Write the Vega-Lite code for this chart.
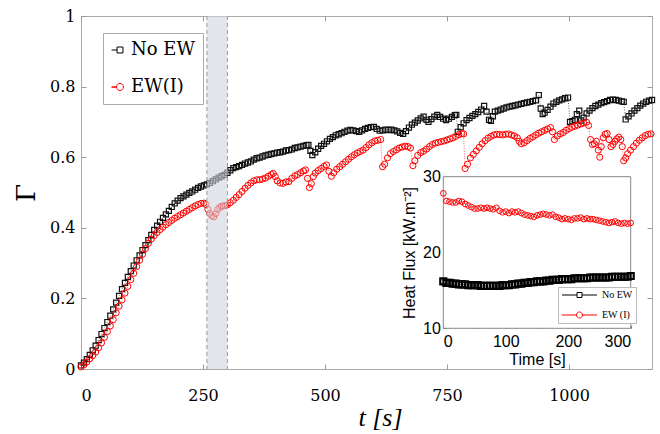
{
  "$schema": "https://vega.github.io/schema/vega-lite/v6.json",
  "width": 571,
  "height": 353,
  "autosize": "none",
  "padding": {"left": 81, "top": 16, "right": 8, "bottom": 65},
  "background": "white",
  "datasets": {
    "noew": [
      {"t":0,"g":0.010},{"t":6,"g":0.018},{"t":12,"g":0.028},{"t":18,"g":0.040},{"t":24,"g":0.053},{"t":30,"g":0.066},
      {"t":36,"g":0.082},{"t":42,"g":0.099},{"t":48,"g":0.116},{"t":54,"g":0.133},{"t":60,"g":0.151},{"t":66,"g":0.169},
      {"t":72,"g":0.188},{"t":78,"g":0.207},{"t":84,"g":0.226},{"t":90,"g":0.244},{"t":96,"g":0.261},{"t":102,"g":0.277},
      {"t":108,"g":0.293},{"t":114,"g":0.308},{"t":120,"g":0.322},{"t":126,"g":0.337},{"t":132,"g":0.351},{"t":138,"g":0.365},
      {"t":144,"g":0.380},{"t":150,"g":0.394},{"t":156,"g":0.406},{"t":162,"g":0.417},{"t":168,"g":0.428},{"t":174,"g":0.438},
      {"t":180,"g":0.448},{"t":186,"g":0.459},{"t":192,"g":0.469},{"t":198,"g":0.477},{"t":204,"g":0.484},{"t":210,"g":0.489},
      {"t":216,"g":0.494},{"t":222,"g":0.499},{"t":228,"g":0.503},{"t":234,"g":0.508},{"t":240,"g":0.513},{"t":246,"g":0.517},
      {"t":252,"g":0.520},{"t":258,"g":0.523},{"t":264,"g":0.527},{"t":270,"g":0.532},{"t":276,"g":0.537},{"t":282,"g":0.542},
      {"t":288,"g":0.546},{"t":294,"g":0.550},{"t":300,"g":0.556},{"t":306,"g":0.563},{"t":312,"g":0.569},{"t":318,"g":0.572},
      {"t":324,"g":0.575},{"t":330,"g":0.578},{"t":336,"g":0.582},{"t":342,"g":0.585},{"t":348,"g":0.588},{"t":354,"g":0.593},
      {"t":360,"g":0.597},{"t":366,"g":0.599},{"t":372,"g":0.602},{"t":378,"g":0.605},{"t":384,"g":0.607},{"t":390,"g":0.609},
      {"t":396,"g":0.611},{"t":402,"g":0.613},{"t":408,"g":0.614},{"t":414,"g":0.616},{"t":420,"g":0.619},{"t":426,"g":0.620},
      {"t":432,"g":0.622},{"t":438,"g":0.626},{"t":444,"g":0.628},{"t":450,"g":0.630},{"t":456,"g":0.632},{"t":462,"g":0.634},
      {"t":466,"g":0.635},{"t":470,"g":0.618},{"t":474,"g":0.606},{"t":480,"g":0.614},{"t":486,"g":0.624},{"t":492,"g":0.632},
      {"t":498,"g":0.638},{"t":504,"g":0.645},{"t":510,"g":0.652},{"t":516,"g":0.657},{"t":522,"g":0.662},{"t":528,"g":0.665},
      {"t":534,"g":0.668},{"t":540,"g":0.672},{"t":546,"g":0.675},{"t":552,"g":0.677},{"t":558,"g":0.676},{"t":564,"g":0.674},
      {"t":570,"g":0.672},{"t":576,"g":0.676},{"t":582,"g":0.680},{"t":588,"g":0.683},{"t":594,"g":0.685},{"t":600,"g":0.686},
      {"t":606,"g":0.680},{"t":612,"g":0.675},{"t":618,"g":0.676},{"t":624,"g":0.678},{"t":630,"g":0.677},{"t":636,"g":0.678},
      {"t":642,"g":0.676},{"t":648,"g":0.673},{"t":654,"g":0.669},{"t":660,"g":0.666},{"t":666,"g":0.674},{"t":672,"g":0.684},
      {"t":678,"g":0.692},{"t":684,"g":0.698},{"t":690,"g":0.704},{"t":696,"g":0.710},{"t":702,"g":0.715},{"t":708,"g":0.706},
      {"t":712,"g":0.700},{"t":718,"g":0.708},{"t":724,"g":0.715},{"t":730,"g":0.720},{"t":736,"g":0.714},{"t":742,"g":0.709},
      {"t":748,"g":0.705},{"t":754,"g":0.709},{"t":760,"g":0.714},{"t":766,"g":0.719},{"t":769,"g":0.720},{"t":772,"g":0.672},
      {"t":778,"g":0.685},{"t":784,"g":0.696},{"t":790,"g":0.705},{"t":796,"g":0.711},{"t":802,"g":0.717},{"t":808,"g":0.722},
      {"t":814,"g":0.728},{"t":820,"g":0.735},{"t":826,"g":0.745},{"t":831,"g":0.729},{"t":836,"g":0.706},{"t":840,"g":0.703},
      {"t":844,"g":0.716},{"t":848,"g":0.729},{"t":854,"g":0.732},{"t":860,"g":0.735},{"t":866,"g":0.738},{"t":872,"g":0.741},
      {"t":878,"g":0.743},{"t":884,"g":0.745},{"t":890,"g":0.747},{"t":896,"g":0.749},{"t":902,"g":0.751},{"t":908,"g":0.753},
      {"t":914,"g":0.755},{"t":920,"g":0.757},{"t":926,"g":0.759},{"t":932,"g":0.761},{"t":938,"g":0.776},{"t":942,"g":0.738},
      {"t":946,"g":0.722},{"t":950,"g":0.726},{"t":956,"g":0.734},{"t":962,"g":0.743},{"t":968,"g":0.752},{"t":974,"g":0.757},
      {"t":980,"g":0.761},{"t":986,"g":0.764},{"t":992,"g":0.767},{"t":998,"g":0.769},{"t":1002,"g":0.700},{"t":1007,"g":0.702},
      {"t":1012,"g":0.706},{"t":1016,"g":0.722},{"t":1021,"g":0.732},{"t":1025,"g":0.704},{"t":1030,"g":0.712},{"t":1036,"g":0.724},
      {"t":1042,"g":0.732},{"t":1048,"g":0.739},{"t":1054,"g":0.745},{"t":1060,"g":0.749},{"t":1066,"g":0.753},{"t":1072,"g":0.756},
      {"t":1078,"g":0.759},{"t":1084,"g":0.762},{"t":1090,"g":0.763},{"t":1096,"g":0.762},{"t":1102,"g":0.760},{"t":1108,"g":0.758},
      {"t":1112,"g":0.757},{"t":1116,"g":0.707},{"t":1122,"g":0.716},{"t":1128,"g":0.724},{"t":1134,"g":0.732},{"t":1140,"g":0.739},
      {"t":1146,"g":0.746},{"t":1152,"g":0.752},{"t":1158,"g":0.757},{"t":1164,"g":0.760},{"t":1170,"g":0.762}
    ],
    "ewi": [
      {"t":0,"g":0.006},{"t":6,"g":0.012},{"t":12,"g":0.020},{"t":18,"g":0.029},{"t":24,"g":0.038},{"t":30,"g":0.048},
      {"t":36,"g":0.060},{"t":42,"g":0.074},{"t":48,"g":0.090},{"t":54,"g":0.106},{"t":60,"g":0.122},{"t":66,"g":0.140},
      {"t":72,"g":0.159},{"t":78,"g":0.178},{"t":84,"g":0.196},{"t":90,"g":0.215},{"t":96,"g":0.234},{"t":102,"g":0.253},
      {"t":108,"g":0.271},{"t":114,"g":0.290},{"t":120,"g":0.308},{"t":126,"g":0.325},{"t":132,"g":0.341},{"t":138,"g":0.356},
      {"t":144,"g":0.368},{"t":150,"g":0.378},{"t":156,"g":0.387},{"t":162,"g":0.395},{"t":168,"g":0.402},{"t":174,"g":0.409},
      {"t":180,"g":0.415},{"t":186,"g":0.421},{"t":192,"g":0.427},{"t":198,"g":0.432},{"t":204,"g":0.437},{"t":210,"g":0.442},
      {"t":216,"g":0.447},{"t":222,"g":0.452},{"t":228,"g":0.457},{"t":234,"g":0.462},{"t":240,"g":0.466},{"t":246,"g":0.469},
      {"t":252,"g":0.470},{"t":256,"g":0.466},{"t":260,"g":0.452},{"t":264,"g":0.441},{"t":268,"g":0.434},{"t":272,"g":0.431},
      {"t":276,"g":0.440},{"t":280,"g":0.452},{"t":284,"g":0.458},{"t":288,"g":0.461},{"t":292,"g":0.462},{"t":296,"g":0.463},
      {"t":300,"g":0.465},{"t":306,"g":0.471},{"t":312,"g":0.478},{"t":318,"g":0.486},{"t":324,"g":0.494},{"t":330,"g":0.503},
      {"t":336,"g":0.512},{"t":342,"g":0.520},{"t":348,"g":0.527},{"t":354,"g":0.533},{"t":360,"g":0.536},{"t":366,"g":0.536},
      {"t":372,"g":0.538},{"t":378,"g":0.541},{"t":384,"g":0.546},{"t":390,"g":0.551},{"t":394,"g":0.554},{"t":398,"g":0.545},
      {"t":402,"g":0.533},{"t":408,"g":0.527},{"t":414,"g":0.526},{"t":420,"g":0.530},{"t":426,"g":0.531},{"t":432,"g":0.540},
      {"t":438,"g":0.547},{"t":444,"g":0.551},{"t":450,"g":0.556},{"t":456,"g":0.561},{"t":460,"g":0.564},{"t":464,"g":0.540},
      {"t":468,"g":0.514},{"t":472,"g":0.525},{"t":476,"g":0.545},{"t":480,"g":0.555},{"t":486,"g":0.562},{"t":492,"g":0.568},
      {"t":498,"g":0.574},{"t":503,"g":0.578},{"t":508,"g":0.560},{"t":513,"g":0.546},{"t":518,"g":0.556},{"t":524,"g":0.566},
      {"t":530,"g":0.573},{"t":536,"g":0.580},{"t":542,"g":0.587},{"t":548,"g":0.594},{"t":554,"g":0.601},{"t":560,"g":0.607},
      {"t":566,"g":0.612},{"t":572,"g":0.616},{"t":578,"g":0.620},{"t":584,"g":0.627},{"t":590,"g":0.635},{"t":596,"g":0.641},
      {"t":602,"g":0.646},{"t":608,"g":0.648},{"t":614,"g":0.650},{"t":618,"g":0.573},{"t":622,"g":0.580},{"t":628,"g":0.598},
      {"t":634,"g":0.610},{"t":640,"g":0.616},{"t":646,"g":0.621},{"t":652,"g":0.626},{"t":658,"g":0.629},{"t":664,"g":0.631},
      {"t":670,"g":0.630},{"t":675,"g":0.626},{"t":680,"g":0.576},{"t":684,"g":0.590},{"t":690,"g":0.605},{"t":696,"g":0.613},
      {"t":702,"g":0.617},{"t":708,"g":0.623},{"t":714,"g":0.630},{"t":720,"g":0.636},{"t":726,"g":0.640},{"t":732,"g":0.642},
      {"t":738,"g":0.644},{"t":744,"g":0.646},{"t":750,"g":0.649},{"t":756,"g":0.652},{"t":762,"g":0.655},{"t":768,"g":0.659},
      {"t":774,"g":0.664},{"t":780,"g":0.667},{"t":784,"g":0.666},{"t":787,"g":0.568},{"t":792,"g":0.580},{"t":798,"g":0.598},
      {"t":804,"g":0.608},{"t":810,"g":0.618},{"t":816,"g":0.628},{"t":822,"g":0.638},{"t":828,"g":0.647},{"t":834,"g":0.654},
      {"t":840,"g":0.659},{"t":846,"g":0.663},{"t":852,"g":0.665},{"t":858,"g":0.664},{"t":864,"g":0.663},{"t":870,"g":0.665},
      {"t":876,"g":0.666},{"t":882,"g":0.663},{"t":888,"g":0.660},{"t":894,"g":0.655},{"t":898,"g":0.645},{"t":902,"g":0.638},
      {"t":908,"g":0.641},{"t":914,"g":0.647},{"t":920,"g":0.653},{"t":926,"g":0.658},{"t":932,"g":0.663},{"t":938,"g":0.668},
      {"t":944,"g":0.672},{"t":950,"g":0.676},{"t":956,"g":0.680},{"t":962,"g":0.684},{"t":966,"g":0.672},{"t":970,"g":0.650},
      {"t":976,"g":0.660},{"t":982,"g":0.666},{"t":988,"g":0.670},{"t":994,"g":0.676},{"t":1000,"g":0.681},{"t":1006,"g":0.685},
      {"t":1012,"g":0.688},{"t":1018,"g":0.691},{"t":1024,"g":0.694},{"t":1030,"g":0.697},{"t":1036,"g":0.699},{"t":1040,"g":0.690},
      {"t":1044,"g":0.650},{"t":1048,"g":0.636},{"t":1052,"g":0.638},{"t":1056,"g":0.645},{"t":1060,"g":0.620},{"t":1063,"g":0.600},
      {"t":1066,"g":0.630},{"t":1070,"g":0.655},{"t":1074,"g":0.665},{"t":1078,"g":0.667},{"t":1082,"g":0.650},{"t":1086,"g":0.630},
      {"t":1090,"g":0.636},{"t":1094,"g":0.645},{"t":1098,"g":0.652},{"t":1102,"g":0.657},{"t":1106,"g":0.650},{"t":1109,"g":0.630},
      {"t":1112,"g":0.590},{"t":1116,"g":0.598},{"t":1120,"g":0.610},{"t":1126,"g":0.620},{"t":1132,"g":0.630},{"t":1138,"g":0.640},
      {"t":1144,"g":0.648},{"t":1150,"g":0.655},{"t":1156,"g":0.661},{"t":1162,"g":0.665},{"t":1168,"g":0.666}
    ],
    "hf_noew": [
      {"t":0,"q":16.2},{"t":5,"q":16.0},{"t":10,"q":16.0},{"t":15,"q":15.9},{"t":20,"q":15.9},{"t":25,"q":15.8},{"t":30,"q":15.8},
      {"t":35,"q":15.8},{"t":40,"q":15.7},{"t":45,"q":15.7},{"t":50,"q":15.7},{"t":55,"q":15.7},{"t":60,"q":15.6},{"t":65,"q":15.6},
      {"t":70,"q":15.6},{"t":75,"q":15.6},{"t":80,"q":15.6},{"t":85,"q":15.6},{"t":90,"q":15.6},{"t":95,"q":15.7},{"t":100,"q":15.7},
      {"t":105,"q":15.7},{"t":110,"q":15.8},{"t":115,"q":15.8},{"t":120,"q":15.9},{"t":125,"q":15.9},{"t":130,"q":16.0},{"t":135,"q":16.0},
      {"t":140,"q":16.1},{"t":145,"q":16.1},{"t":150,"q":16.2},{"t":155,"q":16.2},{"t":160,"q":16.2},{"t":165,"q":16.3},{"t":170,"q":16.3},
      {"t":175,"q":16.4},{"t":180,"q":16.4},{"t":185,"q":16.4},{"t":190,"q":16.5},{"t":195,"q":16.5},{"t":200,"q":16.5},{"t":205,"q":16.5},
      {"t":210,"q":16.6},{"t":215,"q":16.6},{"t":220,"q":16.6},{"t":225,"q":16.6},{"t":230,"q":16.6},{"t":235,"q":16.7},{"t":240,"q":16.7},
      {"t":245,"q":16.7},{"t":250,"q":16.7},{"t":255,"q":16.7},{"t":260,"q":16.7},{"t":265,"q":16.7},{"t":270,"q":16.8},{"t":275,"q":16.8},
      {"t":280,"q":16.8},{"t":285,"q":16.8},{"t":290,"q":16.8},{"t":295,"q":16.8},{"t":300,"q":16.9}
    ],
    "hf_ewi": [
      {"t":0,"q":27.8},{"t":5,"q":26.8},{"t":10,"q":26.7},{"t":15,"q":26.6},{"t":20,"q":26.6},{"t":25,"q":26.8},{"t":30,"q":26.7},
      {"t":35,"q":26.4},{"t":40,"q":26.2},{"t":45,"q":26.0},{"t":50,"q":25.8},{"t":55,"q":25.8},{"t":60,"q":25.9},{"t":65,"q":25.8},
      {"t":70,"q":25.9},{"t":75,"q":25.8},{"t":80,"q":25.7},{"t":85,"q":25.9},{"t":90,"q":25.5},{"t":95,"q":25.3},{"t":100,"q":25.4},
      {"t":105,"q":25.2},{"t":110,"q":25.4},{"t":115,"q":25.3},{"t":120,"q":25.4},{"t":125,"q":25.2},{"t":130,"q":25.0},{"t":135,"q":24.9},
      {"t":140,"q":24.8},{"t":145,"q":24.7},{"t":150,"q":24.9},{"t":155,"q":25.0},{"t":160,"q":25.1},{"t":165,"q":25.0},{"t":170,"q":24.9},
      {"t":175,"q":25.0},{"t":180,"q":24.7},{"t":185,"q":24.6},{"t":190,"q":24.4},{"t":195,"q":24.5},{"t":200,"q":24.4},{"t":205,"q":24.3},
      {"t":210,"q":24.5},{"t":215,"q":24.5},{"t":220,"q":24.6},{"t":225,"q":24.4},{"t":230,"q":24.5},{"t":235,"q":24.4},{"t":240,"q":24.4},
      {"t":245,"q":24.3},{"t":250,"q":24.2},{"t":255,"q":24.1},{"t":260,"q":24.0},{"t":265,"q":23.9},{"t":270,"q":24.0},{"t":275,"q":24.1},
      {"t":280,"q":23.9},{"t":285,"q":23.8},{"t":290,"q":23.9},{"t":295,"q":23.8},{"t":300,"q":23.9}
    ]
  },
  "layer": [
    {
      "layer": [
        {
          "data": {"name": "noew"},
          "mark": {"type": "line", "color": "black", "strokeWidth": 0.6, "strokeDash": [1, 1.5]},
          "encoding": {
            "x": {
              "field": "t", "type": "quantitative",
              "scale": {"domain": [0, 1170], "nice": false},
              "axis": {
                "title": "t [s]", "values": [0, 250, 500, 750, 1000], "format": "d", "domain": false, "grid": false,
                "tickSize": -5, "tickColor": "#999",
                "labelFont": "DejaVu Serif", "labelFontSize": 16, "labelColor": "black", "labelPadding": 23,
                "titleFont": "Liberation Serif", "titleFontStyle": "italic", "titleFontWeight": "normal",
                "titleFontSize": 26, "titleColor": "black", "titlePadding": 1, "titleX": 299
              }
            },
            "y": {
              "field": "g", "type": "quantitative",
              "scale": {"domain": [0, 1], "nice": false},
              "axis": {
                "title": "Γ", "values": [0, 0.2, 0.4, 0.6, 0.8, 1], "format": "~g", "domain": false, "grid": false,
                "tickSize": -5, "tickColor": "#999",
                "labelFont": "DejaVu Serif", "labelFontSize": 16, "labelColor": "black", "labelPadding": 11,
                "titleFont": "DejaVu Serif", "titleFontWeight": "normal", "titleFontSize": 26,
                "titleColor": "black", "titlePadding": 10
              }
            }
          }
        },
        {
          "data": {"name": "ewi"},
          "mark": {"type": "line", "color": "red", "strokeWidth": 0.6, "strokeDash": [1, 1.5]},
          "encoding": {
            "x": {"field": "t", "type": "quantitative"},
            "y": {"field": "g", "type": "quantitative"}
          }
        },
        {
          "data": {"name": "noew"},
          "mark": {"type": "point", "shape": "square", "filled": false, "size": 26, "strokeWidth": 1.2, "color": "#111", "opacity": 1},
          "encoding": {
            "x": {"field": "t", "type": "quantitative"},
            "y": {"field": "g", "type": "quantitative"}
          }
        },
        {
          "data": {"name": "ewi"},
          "mark": {"type": "point", "shape": "circle", "filled": false, "size": 38, "strokeWidth": 1, "color": "red", "opacity": 1},
          "encoding": {
            "x": {"field": "t", "type": "quantitative"},
            "y": {"field": "g", "type": "quantitative"}
          }
        },
        {
          "data": {"values": [{"s": "No EW"}, {"s": "EW(I)"}]},
          "mark": {"type": "point", "filled": false, "clip": true, "opacity": 1, "strokeWidth": 1},
          "encoding": {
            "x": {"datum": -500, "type": "quantitative"},
            "y": {"datum": -1, "type": "quantitative"},
            "color": {
              "field": "s", "type": "nominal",
              "scale": {"domain": ["No EW", "EW(I)"], "range": ["black", "red"]},
              "legend": {
                "title": null, "orient": "none", "legendX": 22, "legendY": 17,
                "padding": 8, "rowPadding": 19, "symbolOffset": 0, "labelOffset": 2,
                "labelFont": "DejaVu Serif", "labelFontSize": 18, "labelColor": "black",
                "symbolSize": 49, "symbolStrokeWidth": 1,
                "strokeColor": "#aaa", "fillColor": "white"
              }
            },
            "shape": {
              "field": "s", "type": "nominal",
              "scale": {
                "domain": ["No EW", "EW(I)"],
                "range": ["M-2.4,0H-0.85M-0.85,-0.85H0.85V0.85H-0.85Z", "M-2.4,0H-1A1,1 0 1,0 1,0A1,1 0 1,0 -1,0Z"]
              },
              "legend": {
                "title": null, "orient": "none", "legendX": 22, "legendY": 17,
                "padding": 8, "rowPadding": 19, "symbolOffset": 0, "labelOffset": 2,
                "labelFont": "DejaVu Serif", "labelFontSize": 18, "labelColor": "black",
                "symbolSize": 49, "symbolStrokeWidth": 1,
                "strokeColor": "#aaa", "fillColor": "white"
              }
            }
          }
        },
        {
          "data": {"values": [{"a": 258, "b": 300}]},
          "mark": {"type": "rect", "color": "#cfd5de", "opacity": 0.6},
          "encoding": {
            "x": {"field": "a", "type": "quantitative"},
            "x2": {"field": "b"}
          }
        },
        {
          "data": {"values": [{"v": 258}, {"v": 300}]},
          "mark": {"type": "rule", "color": "#999", "strokeDash": [4, 3], "strokeWidth": 1},
          "encoding": {
            "x": {"field": "v", "type": "quantitative"}
          }
        }
      ]
    },
    {
      "data": {"values": [{"t": 0, "g": 0}]},
      "mark": {"type": "point", "opacity": 0},
      "encoding": {
        "x": {
          "field": "t", "type": "quantitative",
          "scale": {"domain": [0, 1170], "nice": false},
          "axis": {"orient": "top", "values": [0, 250, 500, 750, 1000], "labels": false, "title": null,
                   "domain": false, "grid": false, "tickSize": -5, "tickColor": "#999"}
        },
        "y": {
          "field": "g", "type": "quantitative",
          "scale": {"domain": [0, 1], "nice": false},
          "axis": {"orient": "right", "values": [0, 0.2, 0.4, 0.6, 0.8, 1], "labels": false, "title": null,
                   "domain": false, "grid": false, "tickSize": -5, "tickColor": "#999"}
        }
      }
    },
    {
      "layer": [
        {
          "data": {"values": [{"x0": 0, "x1": 300, "y0": 10, "y1": 30}]},
          "mark": {"type": "rect", "fill": "white", "stroke": "#888", "strokeWidth": 1},
          "encoding": {
            "x": {
              "field": "x0", "type": "quantitative",
              "scale": {"domain": [0, 300], "range": [362.3, 549.7], "nice": false},
              "axis": {
                "orient": "bottom", "offset": -40.7, "title": "Time [s]",
                "values": [0, 50, 100, 150, 200, 250, 300],
                "labelExpr": "datum.value % 100 === 0 ? datum.label : ''",
                "domain": false, "grid": false, "tickSize": -3, "tickColor": "#777",
                "labelFont": "Liberation Sans", "labelFontSize": 16, "labelColor": "black", "labelPadding": 8,
                "titleFont": "Liberation Sans", "titleFontSize": 16, "titleFontWeight": "normal",
                "titleColor": "black", "titlePadding": 2
              }
            },
            "x2": {"field": "x1"},
            "y": {
              "field": "y0", "type": "quantitative",
              "scale": {"domain": [10, 30], "range": [312.3, 160.7], "nice": false},
              "axis": {
                "orient": "left", "offset": -362.3, "title": "Heat Flux [kW.m⁻²]",
                "values": [10, 20, 30],
                "domain": false, "grid": false, "tickSize": -3, "tickColor": "#777",
                "labelFont": "Liberation Sans", "labelFontSize": 16, "labelColor": "black", "labelPadding": 6,
                "titleFont": "Liberation Sans", "titleFontSize": 16, "titleFontWeight": "normal",
                "titleColor": "black", "titlePadding": 5
              }
            },
            "y2": {"field": "y1"}
          }
        },
        {
          "data": {"name": "hf_noew"},
          "mark": {"type": "line", "color": "black", "strokeWidth": 0.6, "strokeDash": [1, 1.5]},
          "encoding": {
            "x": {"field": "t", "type": "quantitative"},
            "y": {"field": "q", "type": "quantitative"}
          }
        },
        {
          "data": {"name": "hf_ewi"},
          "mark": {"type": "line", "color": "red", "strokeWidth": 0.6, "strokeDash": [1, 1.5]},
          "encoding": {
            "x": {"field": "t", "type": "quantitative"},
            "y": {"field": "q", "type": "quantitative"}
          }
        },
        {
          "data": {"name": "hf_noew"},
          "mark": {"type": "point", "shape": "square", "filled": false, "size": 36, "strokeWidth": 2.2, "color": "black", "opacity": 1},
          "encoding": {
            "x": {"field": "t", "type": "quantitative"},
            "y": {"field": "q", "type": "quantitative"}
          }
        },
        {
          "data": {"name": "hf_ewi"},
          "mark": {"type": "point", "shape": "circle", "filled": false, "size": 32, "strokeWidth": 1, "color": "red", "opacity": 1},
          "encoding": {
            "x": {"field": "t", "type": "quantitative"},
            "y": {"field": "q", "type": "quantitative"}
          }
        },
        {
          "data": {"values": [{"s": "No EW"}, {"s": "EW (I)"}]},
          "mark": {"type": "point", "filled": false, "clip": true, "opacity": 1, "strokeWidth": 1},
          "encoding": {
            "x": {"datum": -500, "type": "quantitative"},
            "y": {"datum": -50, "type": "quantitative"},
            "color": {
              "field": "s", "type": "nominal",
              "scale": {"domain": ["No EW", "EW (I)"], "range": ["black", "red"]},
              "legend": {
                "title": null, "orient": "none", "legendX": 477, "legendY": 271,
                "padding": 3, "rowPadding": 10, "symbolOffset": 13.5, "labelOffset": 17.5,
                "labelFont": "Liberation Serif", "labelFontSize": 10, "labelColor": "black",
                "symbolSize": 25, "symbolStrokeWidth": 1,
                "strokeColor": "#bbb", "fillColor": "white"
              }
            },
            "shape": {
              "field": "s", "type": "nominal",
              "scale": {
                "domain": ["No EW", "EW (I)"],
                "range": ["M-7,0H-1M1,0H7M-1,-1H1V1H-1Z", "M-7,0H-1.2M1.2,0H7M-1.2,0A1.2,1.2 0 1,0 1.2,0A1.2,1.2 0 1,0 -1.2,0Z"]
              },
              "legend": {
                "title": null, "orient": "none", "legendX": 477, "legendY": 271,
                "padding": 3, "rowPadding": 10, "symbolOffset": 13.5, "labelOffset": 17.5,
                "labelFont": "Liberation Serif", "labelFontSize": 10, "labelColor": "black",
                "symbolSize": 25, "symbolStrokeWidth": 1,
                "strokeColor": "#bbb", "fillColor": "white"
              }
            }
          }
        }
      ]
    }
  ],
  "resolve": {"scale": {"x": "independent", "y": "independent", "color": "independent", "shape": "independent"}},
  "config": {
    "view": {"stroke": "#aaa"}
  }
}
